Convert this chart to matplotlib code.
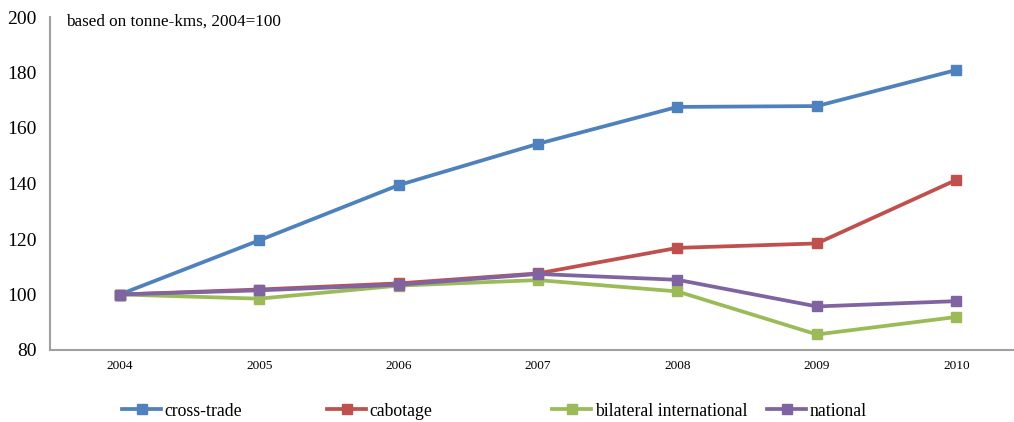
import matplotlib
matplotlib.use("Agg")
import matplotlib.pyplot as plt
from matplotlib.lines import Line2D

plt.rcParams['font.family'] = ['Liberation Serif', 'DejaVu Serif']

years = ["2004", "2005", "2006", "2007", "2008", "2009", "2010"]
series_names = ["cross-trade", "cabotage", "bilateral international", "national"]
cross_trade = [100, 119.5, 139.4, 154.3, 167.6, 167.9, 180.9]
cabotage = [100, 101.8, 104.0, 107.6, 116.8, 118.4, 141.3]
bilateral = [100, 98.5, 103.2, 105.2, 101.1, 85.6, 91.9]
national = [100, 101.5, 103.5, 107.4, 105.3, 95.7, 97.6]
y_ticks = [80, 100, 120, 140, 160, 180, 200]

colors = ["#4F81BD", "#C0504D", "#9BBB59", "#8064A2"]
all_series = [cross_trade, cabotage, bilateral, national]

W, H = 1014, 422
fig = plt.figure(figsize=(W / 100, H / 100), dpi=100)
ax = fig.add_axes([50 / W, 1 - 350 / H, (1026 - 50) / W, (350 - 17) / H])

x = list(range(len(years)))
for vals, c in zip(all_series, colors):
    ax.plot(x, vals, color=c, lw=2.7, marker="s", ms=7.8, mec=c, mfc=c,
            solid_joinstyle="round")

ax.set_xlim(-0.5, len(years) - 0.5)
ax.set_ylim(80, 200)
ax.set_yticks(y_ticks)
ax.set_yticklabels([str(v) for v in y_ticks], fontsize=14)
ax.set_xticks(x)
ax.set_xticklabels(years, fontsize=9.5)
ax.tick_params(axis="both", length=0)
ax.tick_params(axis="y", pad=9.5)
ax.tick_params(axis="x", pad=7)
for s in ("top", "right"):
    ax.spines[s].set_visible(False)
for s in ("left", "bottom"):
    ax.spines[s].set_color("#A0A0A0")
    ax.spines[s].set_linewidth(1.5)

fig.text(66 / W, 1 - 22 / H, "based on tonne-kms, 2004=100", fontsize=12.3,
         va="center", ha="left")

# legend entries placed individually in equal-width slots
legend_x = [122, 327, 552, 767]
for name, c, lx in zip(series_names, colors, legend_x):
    h = Line2D([], [], color=c, lw=2.7, marker="s", ms=7.8, mec=c, mfc=c)
    fig.legend([h], [name], loc="center left",
               bbox_to_anchor=(lx / W, 1 - 411 / H), frameon=False,
               fontsize=12.8, handlelength=2.2, handletextpad=0.2,
               borderpad=0, borderaxespad=0)

fig.savefig("out.png", dpi=100)
